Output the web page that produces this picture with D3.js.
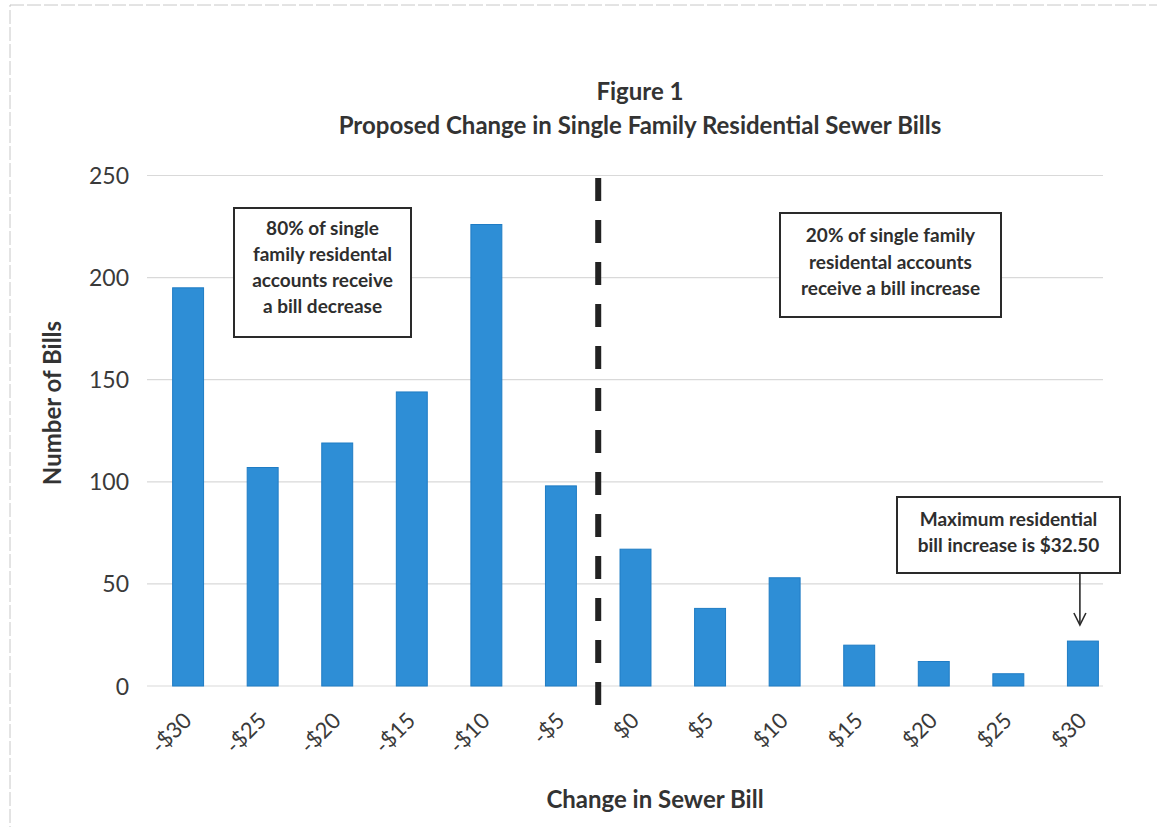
<!DOCTYPE html>
<html>
<head>
<meta charset="utf-8">
<script src="https://cdn.jsdelivr.net/npm/d3@7/dist/d3.min.js"></script>
<style>
  body { margin: 0; background: #fff; }
  svg { display: block; font-family: Lato, "Open Sans", sans-serif; }
</style>
</head>
<body>
<svg id="chart" width="1157" height="827"></svg>
<script>
const categories = ["-$30", "-$25", "-$20", "-$15", "-$10", "-$5", "$0", "$5", "$10", "$15", "$20", "$25", "$30"];
const billCounts = [195, 107, 119, 144, 226, 98, 67, 38, 53, 20, 12, 6, 22];
const yTicks = [0, 50, 100, 150, 200, 250];
const titleLines = ["Figure 1", "Proposed Change in Single Family Residential Sewer Bills"];
const decreaseNote = ["80% of single", "family residental", "accounts receive", "a bill decrease"];
const increaseNote = ["20% of single family", "residental accounts", "receive a bill increase"];
const maxNote = ["Maximum residential", "bill increase is $32.50"];

const svg = d3.select("#chart");
const ink = "#333333";

// page border (scan edge)
svg.append("rect").attr("x", 10).attr("y", 5).attr("width", 1160).attr("height", 830)
  .attr("fill", "none").attr("stroke", "#c8c8c8").attr("stroke-width", 1).attr("stroke-dasharray", "14 3");

const x = d3.scaleBand().domain(categories).range([151, 1120]).paddingInner(0.585).paddingOuter(0.29);
const y = d3.scaleLinear().domain([0, 250]).range([686, 175.5]);

// gridlines
svg.append("g").selectAll("line").data(yTicks).join("line")
  .attr("x1", 147).attr("x2", 1103)
  .attr("y1", d => y(d)).attr("y2", d => y(d))
  .attr("stroke", "#d9d9d9").attr("stroke-width", 1.2);

// y axis labels
const yAxis = d3.axisLeft(y).tickValues(yTicks).tickSize(0).tickPadding(0);
const gy = svg.append("g").attr("transform", "translate(129,0)").call(yAxis);
gy.select(".domain").remove();
gy.selectAll("text").attr("font-size", 23).attr("fill", "#3a3a3a").attr("font-family", "Lato, sans-serif").attr("dy", "0.35em");

// bars
svg.append("g").selectAll("rect").data(billCounts).join("rect")
  .attr("x", (d, i) => x(categories[i]))
  .attr("y", d => y(d))
  .attr("width", x.bandwidth())
  .attr("height", d => y(0) - y(d))
  .attr("fill", "#2e8ed6")
  .attr("stroke", "#1f7cc4").attr("stroke-width", 1);

// x axis labels
const xAxis = d3.axisBottom(x).tickSize(0).tickPadding(0);
const gx = svg.append("g").call(xAxis);
gx.select(".domain").remove();
gx.selectAll(".tick").attr("transform", d => `translate(${x(d) + x.bandwidth() / 2 + 5},722)`);
gx.selectAll("text")
  .attr("font-size", 22).attr("fill", "#3a3a3a").attr("font-family", "Lato, sans-serif")
  .attr("text-anchor", "end").attr("dy", 0).attr("y", 0)
  .attr("transform", "rotate(-45)");

// dashed divider between -$5 and $0
const divX = (x("-$5") + x.bandwidth() + x("$0")) / 2;
svg.append("line")
  .attr("x1", divX).attr("x2", divX).attr("y1", 178).attr("y2", 707)
  .attr("stroke", "#222").attr("stroke-width", 6).attr("stroke-dasharray", "23 19");

// titles
svg.append("g").selectAll("text").data(titleLines).join("text")
  .attr("x", 640).attr("y", (d, i) => 100 + i * 34)
  .attr("text-anchor", "middle").attr("font-size", 24).attr("font-weight", "bold").attr("fill", ink)
  .text(d => d);

// axis titles
svg.append("text").attr("transform", "translate(61,403) rotate(-90)")
  .attr("text-anchor", "middle").attr("font-size", 24).attr("font-weight", "bold").attr("fill", ink)
  .text("Number of Bills");
svg.append("text").attr("x", 655).attr("y", 808)
  .attr("text-anchor", "middle").attr("font-size", 24).attr("font-weight", "bold").attr("fill", ink)
  .text("Change in Sewer Bill");

// annotation boxes
function noteBox(lines, bx, by, bw, bh, firstY, step, fs) {
  const g = svg.append("g");
  g.append("rect").attr("x", bx).attr("y", by).attr("width", bw).attr("height", bh)
    .attr("fill", "#fff").attr("stroke", "#2a2a2a").attr("stroke-width", 2);
  g.selectAll("text").data(lines).join("text")
    .attr("x", bx + bw / 2).attr("y", (d, i) => firstY + i * step)
    .attr("text-anchor", "middle").attr("font-size", fs).attr("font-weight", "bold").attr("fill", "#2e2e2e")
    .text(d => d);
}
noteBox(decreaseNote, 234, 208, 177, 129, 235, 26, 19);
noteBox(increaseNote, 780, 213, 221, 104, 242, 26.5, 19);
noteBox(maxNote, 897, 497, 223, 76, 526, 26, 19);

// arrow to $30 bar
const ax = x("$30") + x.bandwidth() / 2 - 3;
svg.append("line").attr("x1", ax).attr("x2", ax).attr("y1", 573).attr("y2", 624)
  .attr("stroke", "#2a2a2a").attr("stroke-width", 1.6);
svg.append("path").attr("d", `M${ax - 6},${613} L${ax},${625} L${ax + 6},${613}`)
  .attr("fill", "none").attr("stroke", "#2a2a2a").attr("stroke-width", 1.6);
</script>
</body>
</html>
